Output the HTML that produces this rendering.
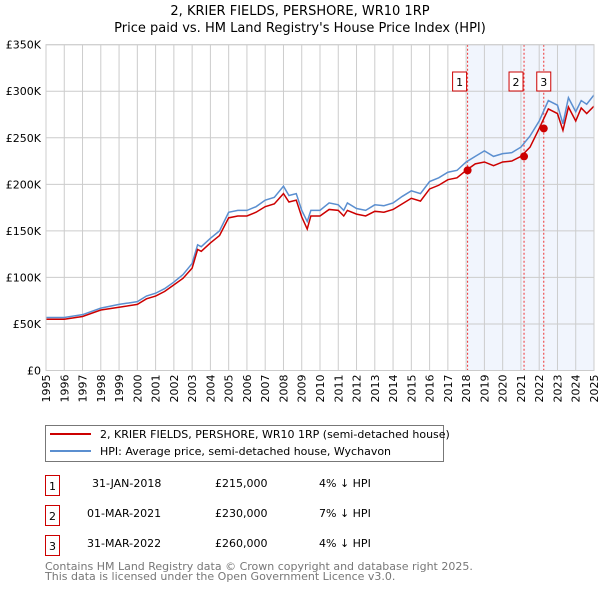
<!DOCTYPE html>
<html><head><meta charset="utf-8"><style>
body{margin:0;background:#fff;font-family:"DejaVu Sans","Liberation Sans",sans-serif;}
svg text{font-family:"DejaVu Sans","Liberation Sans",sans-serif;}
</style></head><body>
<svg id="c" width="600" height="590" viewBox="0 0 600 590" xmlns="http://www.w3.org/2000/svg">
<text x="300" y="15" text-anchor="middle" font-size="13">2, KRIER FIELDS, PERSHORE, WR10 1RP</text>
<text x="300" y="32" text-anchor="middle" font-size="13">Price paid vs. HM Land Registry's House Price Index (HPI)</text>
<g id="plot"></g>
<g>
<rect x="45.5" y="425.5" width="398" height="36" fill="#fff" stroke="#777"/>
<line x1="50" y1="434" x2="91" y2="434" stroke="#c00" stroke-width="2"/>
<text x="100" y="438" font-size="11">2, KRIER FIELDS, PERSHORE, WR10 1RP (semi-detached house)</text>
<line x1="50" y1="451" x2="91" y2="451" stroke="#5b8fd0" stroke-width="2"/>
<text x="100" y="455" font-size="11">HPI: Average price, semi-detached house, Wychavon</text>
</g>
<g font-size="11">
<rect x="45.5" y="475.5" width="14" height="20" fill="#fff" stroke="#c00"/><text x="52.5" y="490" text-anchor="middle">1</text>
<text x="92" y="487">31-JAN-2018</text><text x="215" y="487">£215,000</text><text x="319" y="487">4% ↓ HPI</text>
<rect x="45.5" y="505.5" width="14" height="20" fill="#fff" stroke="#c00"/><text x="52.5" y="520" text-anchor="middle">2</text>
<text x="87" y="517">01-MAR-2021</text><text x="215" y="517">£230,000</text><text x="319" y="517">7% ↓ HPI</text>
<rect x="45.5" y="535.5" width="14" height="20" fill="#fff" stroke="#c00"/><text x="52.5" y="550" text-anchor="middle">3</text>
<text x="87" y="547">31-MAR-2022</text><text x="215" y="547">£260,000</text><text x="319" y="547">4% ↓ HPI</text>
</g>
<text x="45" y="570" font-size="11" fill="#777">Contains HM Land Registry data © Crown copyright and database right 2025.</text>
<text x="45" y="580" font-size="11" fill="#777">This data is licensed under the Open Government Licence v3.0.</text>
</svg>
<script>
const hpiYears=[1995,1996,1997,1998,1999,2000,2000.5,2001,2001.5,2002,2002.5,2003,2003.3,2003.5,2004,2004.5,2005,2005.5,2006,2006.5,2007,2007.5,2008,2008.3,2008.7,2009,2009.3,2009.5,2010,2010.5,2011,2011.3,2011.5,2012,2012.5,2013,2013.5,2014,2014.5,2015,2015.5,2016,2016.5,2017,2017.5,2018,2018.5,2019,2019.5,2020,2020.5,2021,2021.5,2022,2022.5,2023,2023.3,2023.6,2024,2024.3,2024.6,2025];
const hpiValues=[57,57,60,67,71,74,80,83,88,95,103,115,135,133,142,150,170,172,172,176,183,186,198,188,190,172,160,172,172,180,178,172,180,174,172,178,177,180,187,193,190,203,207,213,215,224,230,236,230,233,234,240,252,268,290,285,265,293,278,290,286,296];
const priceValues=[55,55,58,65,68,71,77,80,85,92,99,110,130,128,137,145,164,166,166,170,176,179,190,181,183,165,152,166,166,173,172,166,172,168,166,171,170,173,179,185,182,195,199,205,207,215,222,224,220,224,225,230,240,260,281,276,258,283,268,282,276,284];
const saleYears=[2018.08,2021.17,2022.25];
const saleValues=[215000,230000,260000];
const saleLabels=["1","2","3"];
const yTicks=[0,50,100,150,200,250,300,350];
const xTicks=[];for(let y=1995;y<=2025;y++)xTicks.push(y);
const X0=46,X1=594,Y0=370.5,Y1=44.7;
const xs=y=>X0+(y-1995)/30*(X1-X0);
const ys=v=>Y0-v/350*(Y0-Y1);
const NS="http://www.w3.org/2000/svg";
const g=document.getElementById('plot');
function el(t,a){const e=document.createElementNS(NS,t);for(const k in a)e.setAttribute(k,a[k]);g.appendChild(e);return e;}
const sh=el('rect',{x:xs(saleYears[0]),y:Y1,width:X1-xs(saleYears[0]),height:Y0-Y1,fill:'#eef3fc',opacity:0.8});


xTicks.forEach(y=>{const l=el('line',{x1:xs(y),x2:xs(y),y1:Y1,y2:Y0,stroke:'#ccc'});


const t=el('text',{x:0,y:0,'font-size':11,'text-anchor':'end',transform:`translate(${xs(y)+4},${Y0+4}) rotate(-90)`});


t.textContent=y;});
yTicks.forEach(v=>{const l=el('line',{x1:X0,x2:X1,y1:ys(v),y2:ys(v),stroke:'#ccc'});


const t=el('text',{x:X0-5,y:ys(v)+4,'font-size':11,'text-anchor':'end'});


t.textContent=v===0?'£0':'£'+v+'K';});
saleYears.forEach((y,i)=>{const l=el('line',{x1:xs(y),x2:xs(y),y1:Y1,y2:Y0,stroke:'#e33','stroke-dasharray':'2,2'});


const bx=xs(y)-(i===0?3:i===1?3:-3)-14+ (i==2?14:0)-(i==2?14:0);
const r=el('rect',{x:xs(y)+(i===2?-7:-15),y:72,width:14,height:19,fill:'#fff',stroke:'#c00'});


const t=el('text',{x:xs(y)+(i===2?0:-8),y:86,'font-size':11,'text-anchor':'middle'});


t.textContent=saleLabels[i];});
function line(vals,col,name){const p=el('polyline',{points:hpiYears.map((y,i)=>xs(y)+','+ys(vals[i])).join(' '),fill:'none',stroke:col,'stroke-width':1.5});

}
line(hpiValues,'#5b8fd0','hpi-line');
line(priceValues,'#c00','price-line');
saleYears.forEach((y,i)=>{const c=el('circle',{cx:xs(y),cy:ys(saleValues[i]/1000),r:4,fill:'#c00'});

});
const ax=el('rect',{x:X0,y:Y1,width:X1-X0,height:Y0-Y1,fill:'none',stroke:'#ccc'});


</script>
</body></html>
